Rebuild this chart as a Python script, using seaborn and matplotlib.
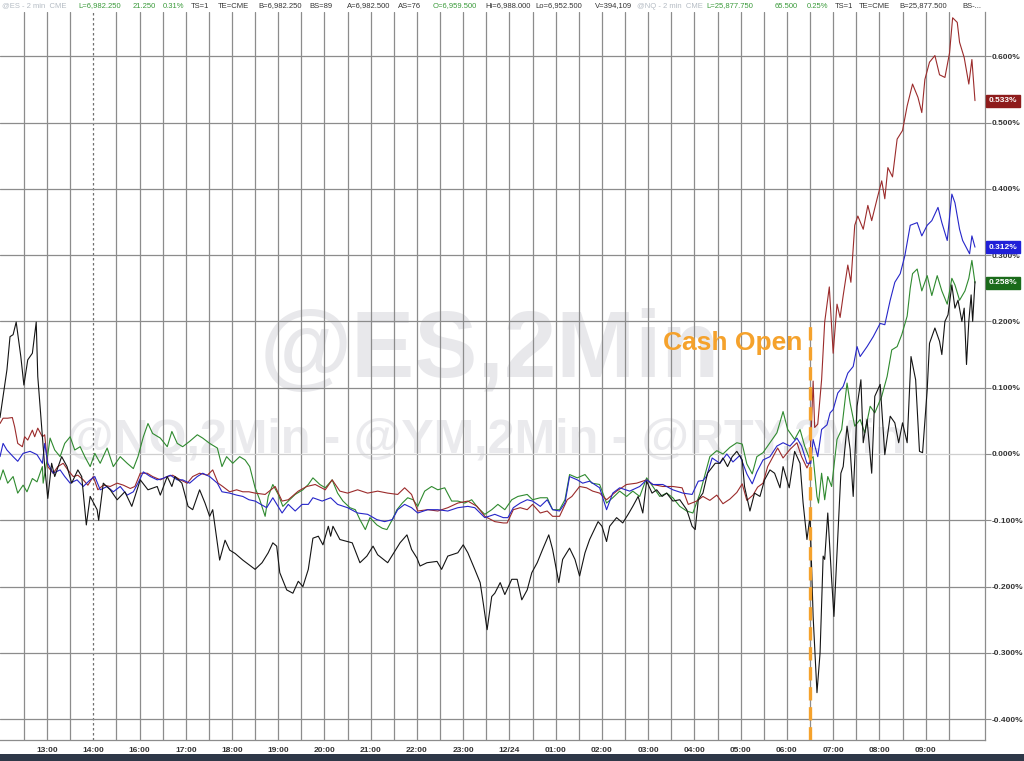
import numpy as np
import pandas as pd
import matplotlib
matplotlib.use("Agg")
import matplotlib.pyplot as plt
import matplotlib.transforms as mtransforms
from matplotlib.patches import Rectangle
import seaborn as sns

# x = minutes on the session axis, measured from the 13:00 label (14:00 -> 16:00 is compressed)
black_min = [-61, -52, -48, -44, -40, -34, -30, -25, -19, -14,
             -12, -6, -3, 1, 6, 10, 19, 26, 32, 40,
             45, 51, 56, 65, 67, 73, 82, 91, 101, 110,
             121, 131, 143, 147, 156, 162, 166, 175, 183, 189,
             198, 205, 211, 215, 224, 231, 237, 244, 254, 262,
             270, 279, 287, 293, 298, 302, 311, 319, 326, 332,
             339, 345, 352, 358, 365, 368, 371, 380, 396, 406,
             415, 423, 429, 442, 451, 458, 467, 473, 480, 484,
             493, 506, 512, 520, 533, 540, 546, 555, 562, 566,
             571, 577, 581, 588, 594, 603, 610, 616, 623, 629,
             636, 643, 651, 656, 664, 669, 678, 685, 691, 698,
             704, 715, 720, 726, 730, 739, 747, 754, 760, 767,
             773, 778, 785, 791, 798, 804, 812, 821, 830, 837,
             841, 845, 851, 857, 867, 873, 877, 883, 889, 895,
             902, 905, 912, 918, 925, 931, 938, 944, 951, 955,
             963, 970, 977, 981, 986, 990, 994, 999, 1003, 1007,
             1009, 1013, 1018, 1021, 1025, 1030, 1033, 1038, 1042, 1046,
             1051, 1056, 1059, 1064, 1070, 1074, 1081, 1087, 1094, 1100,
             1105, 1110, 1116, 1121, 1127, 1132, 1136, 1142, 1145, 1152,
             1158, 1161, 1165, 1169, 1174, 1178, 1182, 1187, 1190, 1193,
             1196, 1199, 1201, 1204]
black_pct = [0.055, 0.127, 0.177, 0.18, 0.199, 0.147, 0.104, 0.142, 0.152, 0.199,
             0.117, 0.026, -0.019, -0.067, -0.014, -0.034, -0.004, -0.019, -0.044, -0.024,
             -0.034, -0.107, -0.064, -0.084, -0.1, -0.044, -0.054, -0.069, -0.057, -0.079,
             -0.039, -0.054, -0.049, -0.062, -0.034, -0.049, -0.034, -0.044, -0.079, -0.084,
             -0.054, -0.074, -0.094, -0.084, -0.16, -0.13, -0.145, -0.15, -0.16, -0.167,
             -0.174, -0.164, -0.149, -0.134, -0.139, -0.179, -0.205, -0.21, -0.192, -0.2,
             -0.174, -0.127, -0.124, -0.137, -0.109, -0.124, -0.109, -0.129, -0.134, -0.164,
             -0.154, -0.139, -0.152, -0.164, -0.147, -0.134, -0.122, -0.144, -0.157, -0.169,
             -0.164, -0.162, -0.174, -0.154, -0.149, -0.137, -0.149, -0.174, -0.194, -0.225,
             -0.265, -0.215, -0.21, -0.194, -0.212, -0.189, -0.189, -0.22, -0.205, -0.179,
             -0.164, -0.144, -0.122, -0.144, -0.194, -0.159, -0.142, -0.159, -0.184, -0.149,
             -0.129, -0.102, -0.109, -0.132, -0.109, -0.096, -0.104, -0.091, -0.079, -0.064,
             -0.089, -0.041, -0.059, -0.054, -0.064, -0.059, -0.071, -0.069, -0.084, -0.109,
             -0.114, -0.069, -0.059, -0.029, -0.014, -0.014, -0.006, -0.019, -0.004, 0.004,
             -0.009, -0.049, -0.086, -0.059, -0.064, -0.039, -0.024, -0.029, -0.051, -0.019,
             -0.051, 0.004, -0.014, -0.074, -0.129, -0.094, -0.245, -0.36, -0.30, -0.154,
             -0.159, -0.089, -0.189, -0.245, -0.149, -0.029, -0.019, 0.042, 0.007, -0.064,
             0.072, 0.112, 0.017, 0.052, -0.029, 0.087, 0.105, -0.001, 0.057, 0.047,
             0.017, 0.047, 0.017, 0.147, 0.112, 0.004, 0.002, 0.097, 0.167, 0.19,
             0.17, 0.15, 0.2, 0.21, 0.255, 0.22, 0.232, 0.2, 0.22, 0.135,
             0.2, 0.24, 0.2, 0.26]

red_min = [-61, -57, -51, -45, -42, -38, -32, -29, -25, -19,
           -16, -12, -6, -3, 1, 8, 14, 21, 27, 34,
           40, 47, 53, 60, 66, 73, 82, 91, 99, 108,
           114, 121, 130, 137, 147, 156, 163, 173, 182, 189,
           198, 208, 215, 222, 228, 237, 246, 254, 262, 270,
           283, 296, 305, 313, 326, 337, 348, 361, 370, 380,
           390, 403, 416, 429, 442, 455, 464, 473, 481, 494,
           507, 520, 533, 546, 558, 568, 581, 592, 597, 605,
           614, 623, 630, 640, 649, 656, 665, 675, 681, 691,
           700, 708, 717, 726, 739, 752, 765, 778, 786, 799,
           812, 824, 832, 843, 851, 860, 869, 877, 886, 895,
           902, 908, 916, 922, 929, 935, 942, 948, 955, 964,
           973, 979, 986, 990, 994, 996, 1000, 1005, 1009, 1015,
           1020, 1025, 1029, 1033, 1039, 1043, 1048, 1052, 1059, 1065,
           1070, 1077, 1083, 1087, 1091, 1097, 1103, 1110, 1116, 1123,
           1130, 1135, 1139, 1145, 1152, 1158, 1165, 1171, 1175, 1181,
           1184, 1190, 1193, 1196, 1200, 1204]
red_pct = [0.046, 0.054, 0.054, 0.055, 0.041, 0.016, 0.011, 0.026, 0.021, 0.036,
           0.026, 0.039, 0.026, 0.029, -0.019, -0.029, -0.019, -0.014, -0.024, -0.034,
           -0.032, -0.039, -0.047, -0.034, -0.054, -0.047, -0.049, -0.044, -0.047, -0.052,
           -0.049, -0.029, -0.029, -0.034, -0.039, -0.034, -0.032, -0.039, -0.044, -0.034,
           -0.029, -0.032, -0.024, -0.044, -0.049, -0.057, -0.054, -0.057, -0.057, -0.059,
           -0.061, -0.049, -0.071, -0.069, -0.056, -0.049, -0.046, -0.054, -0.039, -0.056,
           -0.059, -0.054, -0.059, -0.056, -0.059, -0.061, -0.051, -0.061, -0.086, -0.084,
           -0.086, -0.081, -0.074, -0.071, -0.079, -0.094, -0.102, -0.104, -0.104, -0.084,
           -0.081, -0.084, -0.076, -0.089, -0.086, -0.094, -0.094, -0.069, -0.064, -0.049,
           -0.051, -0.056, -0.059, -0.069, -0.056, -0.046, -0.044, -0.039, -0.046, -0.049,
           -0.049, -0.051, -0.076, -0.071, -0.064, -0.07, -0.062, -0.075, -0.068, -0.058,
           -0.045, -0.07, -0.062, -0.05, -0.044, -0.019, -0.004, 0.009, -0.006, 0.007,
           0.017, -0.004, -0.021, -0.011, 0.11, 0.04, 0.045, 0.112, 0.199, 0.252,
           0.152, 0.226, 0.206, 0.239, 0.285, 0.259, 0.345, 0.359, 0.339, 0.375,
           0.352, 0.385, 0.412, 0.385, 0.432, 0.418, 0.475, 0.488, 0.525, 0.558,
           0.538, 0.515, 0.565, 0.591, 0.601, 0.572, 0.568, 0.605, 0.658, 0.651,
           0.621, 0.598, 0.578, 0.558, 0.595, 0.533]

blue_min = [-61, -57, -52, -44, -38, -31, -22, -13, -6, -3,
            1, 8, 17, 23, 30, 39, 47, 56, 62, 69,
            78, 86, 95, 104, 112, 118, 125, 134, 143, 150,
            160, 169, 176, 185, 195, 202, 211, 221, 227, 237,
            246, 254, 262, 270, 285, 293, 305, 313, 322, 331,
            339, 345, 357, 368, 377, 390, 403, 416, 428, 438,
            448, 455, 464, 473, 481, 494, 507, 520, 533, 546,
            555, 568, 581, 592, 598, 605, 614, 623, 630, 640,
            649, 656, 665, 672, 678, 688, 695, 704, 717, 726,
            734, 743, 756, 769, 778, 786, 799, 812, 825, 837,
            845, 851, 856, 863, 873, 882, 890, 899, 908, 915,
            921, 929, 938, 947, 955, 964, 973, 979, 986, 991,
            994, 1000, 1005, 1012, 1016, 1020, 1026, 1033, 1039, 1046,
            1051, 1055, 1064, 1072, 1081, 1087, 1094, 1100, 1107, 1113,
            1120, 1129, 1135, 1142, 1148, 1156, 1161, 1168, 1174, 1178,
            1184, 1188, 1197, 1200, 1204]
blue_pct = [-0.004, 0.016, 0.006, -0.004, -0.011, 0.001, 0.004, -0.001, -0.014, 0.016,
            -0.014, -0.029, -0.024, -0.034, -0.044, -0.039, -0.049, -0.039, -0.034, -0.054,
            -0.049, -0.057, -0.049, -0.062, -0.057, -0.044, -0.027, -0.034, -0.039, -0.037,
            -0.032, -0.039, -0.039, -0.044, -0.034, -0.029, -0.034, -0.044, -0.057, -0.059,
            -0.062, -0.064, -0.069, -0.071, -0.081, -0.066, -0.089, -0.076, -0.086, -0.076,
            -0.076, -0.066, -0.071, -0.066, -0.076, -0.081, -0.089, -0.091, -0.099, -0.102,
            -0.099, -0.084, -0.076, -0.081, -0.089, -0.084, -0.084, -0.086, -0.081, -0.079,
            -0.081, -0.096, -0.091, -0.096, -0.096, -0.081, -0.074, -0.069, -0.071, -0.079,
            -0.069, -0.084, -0.086, -0.074, -0.034, -0.039, -0.044, -0.041, -0.051, -0.084,
            -0.059, -0.051, -0.056, -0.049, -0.039, -0.046, -0.046, -0.054, -0.059, -0.061,
            -0.041, -0.04, -0.033, -0.006, -0.014, 0.0, -0.012, -0.002, -0.03, -0.045,
            -0.027, -0.009, -0.004, 0.012, 0.017, 0.012, 0.024, 0.012, -0.014, -0.014,
            0.022, -0.004, 0.037, 0.044, 0.062, 0.067, 0.092, 0.102, 0.122, 0.132,
            0.162, 0.147, 0.162, 0.177, 0.197, 0.195, 0.232, 0.259, 0.272, 0.299,
            0.345, 0.349, 0.329, 0.345, 0.352, 0.372, 0.349, 0.322, 0.392, 0.379,
            0.339, 0.322, 0.302, 0.329, 0.312]

green_min = [-61, -57, -51, -44, -38, -31, -26, -19, -13, -6,
             -5, 0, 4, 10, 17, 23, 30, 36, 43, 49,
             56, 62, 69, 78, 86, 95, 104, 112, 118, 125,
             131, 137, 147, 156, 162, 169, 176, 185, 195, 202,
             211, 221, 227, 233, 241, 250, 257, 263, 270, 276,
             283, 287, 293, 300, 306, 313, 322, 332, 339, 345,
             354, 361, 370, 377, 384, 393, 400, 406, 413, 419,
             428, 435, 441, 448, 454, 461, 468, 475, 481, 490,
             499, 507, 516, 525, 533, 542, 551, 559, 568, 577,
             585, 594, 603, 611, 623, 630, 640, 649, 656, 665,
             672, 678, 688, 698, 707, 717, 726, 734, 743, 752,
             760, 769, 778, 786, 795, 804, 812, 821, 830, 838,
             847, 854, 860, 869, 877, 886, 895, 902, 908, 915,
             921, 929, 938, 947, 955, 961, 970, 977, 983, 990,
             994, 999, 1001, 1005, 1009, 1013, 1018, 1025, 1031, 1038,
             1042, 1048, 1055, 1061, 1068, 1074, 1083, 1090, 1096, 1103,
             1109, 1116, 1120, 1123, 1129, 1135, 1142, 1148, 1155, 1161,
             1168, 1174, 1178, 1184, 1191, 1196, 1200, 1204]
green_pct = [-0.039, -0.024, -0.044, -0.034, -0.059, -0.047, -0.057, -0.037, -0.042, -0.019,
             -0.044, -0.009, 0.024, 0.006, -0.004, 0.016, 0.026, 0.006, 0.011, -0.004,
             -0.019, 0.001, -0.014, 0.009, -0.019, -0.004, -0.014, -0.022, -0.004, 0.026,
             0.046, 0.031, 0.024, 0.011, 0.034, 0.016, 0.011, 0.019, 0.029, 0.024,
             0.016, 0.009, -0.019, -0.004, -0.014, -0.004, -0.009, -0.019, -0.051, -0.069,
             -0.094, -0.064, -0.046, -0.061, -0.079, -0.071, -0.061, -0.054, -0.046, -0.036,
             -0.046, -0.051, -0.039, -0.059, -0.071, -0.081, -0.084, -0.099, -0.114, -0.096,
             -0.107, -0.112, -0.114, -0.099, -0.084, -0.074, -0.066, -0.069, -0.079, -0.056,
             -0.049, -0.054, -0.051, -0.071, -0.071, -0.074, -0.069, -0.081, -0.091, -0.084,
             -0.076, -0.084, -0.069, -0.064, -0.061, -0.069, -0.066, -0.066, -0.084, -0.084,
             -0.069, -0.031, -0.036, -0.031, -0.044, -0.046, -0.074, -0.066, -0.056, -0.064,
             -0.056, -0.064, -0.036, -0.049, -0.064, -0.059, -0.066, -0.079, -0.086, -0.089,
             -0.06, -0.03, -0.004, 0.005, 0.0, 0.01, 0.017, 0.015, -0.015, -0.03,
             -0.004, 0.002, 0.017, 0.032, 0.064, 0.037, 0.022, 0.037, 0.012, -0.009,
             -0.004, -0.064, -0.074, -0.029, -0.069, -0.034, -0.049, 0.022, 0.037, 0.107,
             0.077, 0.042, 0.052, 0.032, 0.072, 0.062, 0.087, 0.117, 0.157, 0.162,
             0.18, 0.208, 0.25, 0.272, 0.279, 0.246, 0.269, 0.239, 0.269, 0.246,
             0.226, 0.265, 0.255, 0.232, 0.246, 0.265, 0.292, 0.258]

hour_labels = ["13:00", "14:00", "16:00", "17:00", "18:00", "19:00", "20:00",
               "21:00", "22:00", "23:00", "12/24", "01:00", "02:00", "03:00",
               "04:00", "05:00", "06:00", "07:00", "08:00", "09:00"]
y_ticks = [-0.4, -0.3, -0.2, -0.1, 0.0, 0.1, 0.2, 0.3, 0.4, 0.5, 0.6]
session_break_min = 60     # dashed divider
cash_open_min = 990        # 06:30
cash_open_top = 0.20

colors = {"green": "#2f8a2f", "red": "#9b2b2b", "blue": "#2626c9", "black": "#141414"}
tag_colors = {"red": "#8e1c1c", "blue": "#2020d8", "green": "#1b6b1b"}

sns.set_style("white")
plt.rcParams["font.family"] = ["Liberation Sans", "DejaVu Sans"]

series = {"green": (green_min, green_pct), "red": (red_min, red_pct),
          "blue": (blue_min, blue_pct), "black": (black_min, black_pct)}
frames = []
for name, (mins, pct) in series.items():
    frames.append(pd.DataFrame({"hours": np.array(mins) / 60.0, "pct": pct, "series": name}))
df = pd.concat(frames, ignore_index=True)

fig = plt.figure(figsize=(10.24, 7.61), dpi=100)
ax = fig.add_axes([0, 1 - 740 / 761, 985 / 1024, 728 / 761])
ax.set_xlim(-61 / 60, 1217 / 60)
ax.set_ylim(-0.4314, 0.6667)

grid_col = "#8c8c8c"
for i in range(-1, 40):
    h = i * 0.5
    if i * 30 == session_break_min:
        ax.axvline(h, color="#707070", lw=0.9, ls=(0, (2, 2)), zorder=0.5)
    else:
        ax.axvline(h, color=grid_col, lw=0.9, zorder=0.5)
for v in y_ticks:
    ax.axhline(v, color="#cfcfcf" if v == 0 else grid_col, lw=0.9, zorder=0.5)

# watermarks
ax.text(490 / 1024, 1 - 352 / 761, "@ES,2Min", transform=fig.transFigure, fontsize=68,
        fontweight="bold", color="#e8e8eb", ha="center", va="center", zorder=0.2)
ax.text(485 / 1024, 1 - 440 / 761, "@NQ,2Min - @YM,2Min - @RTY,2Min", transform=fig.transFigure,
        fontsize=35, fontweight="bold", color="#eaeaed", ha="center", va="center", zorder=0.2)

sns.lineplot(data=df, x="hours", y="pct", hue="series", palette=colors,
             hue_order=["green", "red", "blue", "black"], estimator=None, sort=False,
             legend=False, linewidth=0.8, ax=ax, zorder=2)

# cash open marker
ax.vlines(cash_open_min / 60, ax.get_ylim()[0], cash_open_top, colors="#f5a22c", lw=2.4,
          linestyles=(0, (4, 2)), zorder=3)
ax.text(cash_open_min / 60 - 0.17, 0.168, "Cash Open", ha="right", va="center",
        fontsize=19, fontweight="bold", color="#f5a22c", zorder=3)

# axes styling
ax.set_xlabel("")
ax.set_ylabel("")
ax.set_xticks(range(len(hour_labels)))
ax.set_xticklabels(hour_labels)
ax.set_xticks([i + 0.5 for i in range(-1, 20)], minor=True)
ax.yaxis.tick_right()
ax.set_yticks(y_ticks)
ax.set_yticklabels([f"{v:.3f}%" for v in y_ticks])
ax.tick_params(axis="x", which="both", length=3, width=0.8, color=grid_col,
               labelsize=6, pad=2, labelcolor="#333333")
ax.tick_params(axis="y", length=4, width=0.8, color=grid_col, pad=1,
               labelsize=6, labelcolor="#333333")
for lbl in ax.get_xticklabels() + ax.get_yticklabels():
    lbl.set_fontweight("bold")
for side in ["left", "top"]:
    ax.spines[side].set_visible(False)
for side in ["right", "bottom"]:
    ax.spines[side].set_color(grid_col)
    ax.spines[side].set_linewidth(0.9)

# last-value tags on the right axis
trans = mtransforms.blended_transform_factory(ax.transAxes, ax.transData)
for name, last in [("red", red_pct[-1]), ("blue", blue_pct[-1]), ("green", green_pct[-1])]:
    ax.text(1.004, last, f"{last:.3f}%", transform=trans, fontsize=6, fontweight="bold",
            color="white", ha="left", va="center", zorder=5, clip_on=False,
            bbox=dict(boxstyle="square,pad=0.3", fc=tag_colors[name], ec=tag_colors[name]))

# header quote strip
header = [
    (2, "@ES - 2 min  CME", "#b5bcc4"),
    (78, "L=6,982.250", "#3a9a3a"), (133, "21.250", "#3a9a3a"), (163, "0.31%", "#3a9a3a"),
    (191, "TS=1", "#333333"), (218, "TE=CME", "#333333"), (258, "B=6,982.250", "#333333"),
    (309, "BS=89", "#333333"), (347, "A=6,982.500", "#333333"), (398, "AS=76", "#333333"),
    (433, "O=6,959.500", "#3a9a3a"), (485, "Hi=6,988.000", "#333333"),
    (535, "Lo=6,952.500", "#333333"), (595, "V=394,109", "#333333"),
    (637, "@NQ - 2 min  CME", "#b5bcc4"),
    (706, "L=25,877.750", "#3a9a3a"), (775, "65.500", "#3a9a3a"), (807, "0.25%", "#3a9a3a"),
    (835, "TS=1", "#333333"), (859, "TE=CME", "#333333"), (899, "B=25,877.500", "#333333"),
    (962, "BS-...", "#333333"),
]
for x_px, txt, col in header:
    fig.text(x_px / 1024, 1 - 6 / 761, txt, fontsize=5.5, color=col, ha="left", va="center")

fig.patches.append(Rectangle((0, 0), 1, 7 / 761, transform=fig.transFigure,
                             facecolor="#2e3848", edgecolor="none"))

fig.savefig("out.png", dpi=100)
